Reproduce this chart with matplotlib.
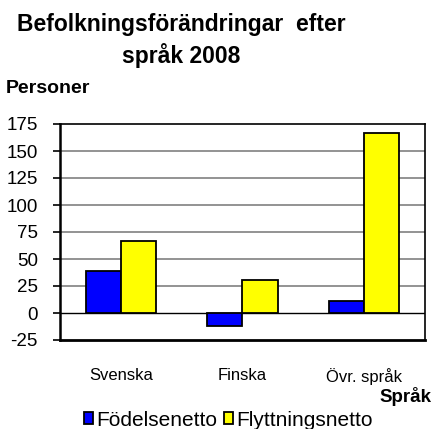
import matplotlib.pyplot as plt
import numpy as np

plt.rcParams['font.family'] = ['Liberation Sans', 'DejaVu Sans']

languages = ['Svenska', 'Finska', 'Övr. språk']
fodelsenetto = [39, -12, 11]
flyttningsnetto = [67, 31, 167]
yticks = [-25, 0, 25, 50, 75, 100, 125, 150, 175]

W, H = 433, 429
fig = plt.figure(figsize=(W / 100, H / 100), dpi=100)
ax = fig.add_axes([60 / W, 89 / H, 365 / W, 216 / H])

x = np.arange(len(languages))
w = 0.29
ax.bar(x - w / 2, fodelsenetto, w, color='#0000ff', edgecolor='black', linewidth=1.3,
       label='Födelsenetto', zorder=3)
ax.bar(x + w / 2, flyttningsnetto, w, color='#ffff00', edgecolor='black', linewidth=1.3,
       label='Flyttningsnetto', zorder=3)

ax.set_xlim(-0.5, 2.5)
ax.set_ylim(-25, 175)
ax.set_yticks(yticks)
ax.set_yticklabels([str(t) for t in yticks], fontsize=13.5)
ax.set_xticks(x)
ax.set_xticklabels(languages, fontsize=12)
ax.tick_params(axis='x', length=0, pad=20)
ax.tick_params(axis='y', length=5, width=1.2, pad=11)

# gridlines in grey, zero line in black
for t in yticks[2:-1]:
    ax.axhline(t, color='#808080', linewidth=1.2, zorder=1)
ax.axhline(0, color='black', linewidth=1, zorder=2)

ax.spines['left'].set_linewidth(1.8)
ax.spines['bottom'].set_linewidth(2)
ax.spines['right'].set_linewidth(1.2)
ax.spines['top'].set_linewidth(1.2)

fig.text(181 / W, 1 - 31 / H, 'Befolkningsförändringar  efter', ha='center', va='baseline',
         fontsize=16.5, fontweight='bold')
fig.text(181 / W, 1 - 63 / H, 'språk 2008', ha='center', va='baseline',
         fontsize=16.5, fontweight='bold')
fig.text(6 / W, 1 - 93 / H, 'Personer', ha='left', va='baseline',
         fontsize=14, fontweight='bold')
fig.text(431 / W, 1 - 402 / H, 'Språk', ha='right', va='baseline',
         fontsize=13.5, fontweight='bold')

fig.legend(loc='center left', bbox_to_anchor=(84 / W, 1 - 420 / H), ncol=2, frameon=False,
           fontsize=15, handlelength=0.45, handleheight=0.45, handletextpad=0.15,
           columnspacing=0.3, borderpad=0, borderaxespad=0)

fig.savefig('out.png', dpi=100)
